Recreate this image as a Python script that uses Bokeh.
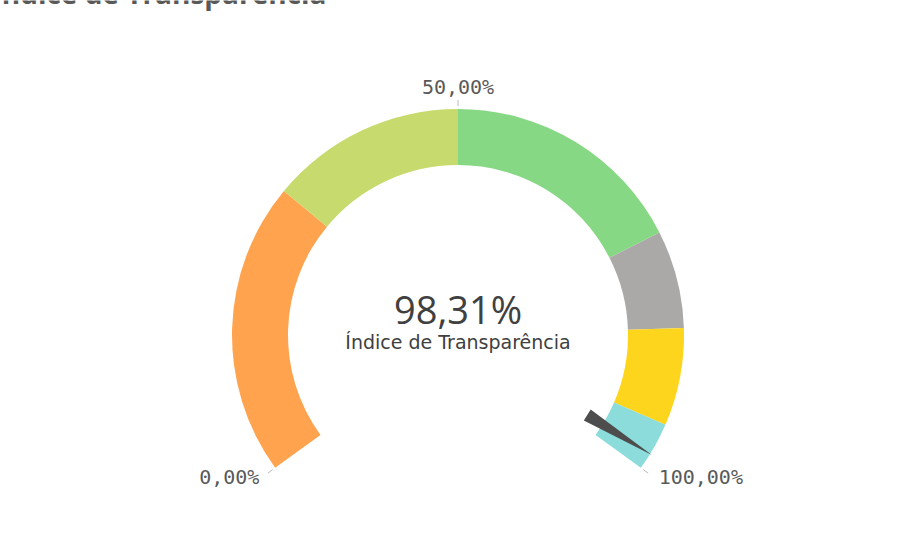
import math

from bokeh.plotting import figure
from bokeh.models import Range1d
from bokeh.core.properties import value
from bokeh.embed import file_html
from bokeh.resources import INLINE

# gauge data
title_text = "Índice de Transparência"
band_edges = [0, 30, 50, 75, 85, 95, 100]
band_colors = ["#FFA34F", "#C7DA6D", "#87D884", "#ABA9A7", "#FCD51C", "#8BDCDA"]
gauge_value = 98.31
value_text = "98,31%"
tick_values = [0, 50, 100]
tick_labels = ["0,00%", "50,00%", "100,00%"]

W, H = 899, 539
PAGE_H = 555

# data units == picture pixels (y flipped), so radii are plain pixels
p = figure(width=W, height=H, title=None,
           x_range=Range1d(0, W), y_range=Range1d(PAGE_H - H, PAGE_H),
           x_axis_location=None, y_axis_location=None,
           output_backend="svg", toolbar_location=None, min_border=0)
p.grid.visible = False
p.outline_line_color = None
p.background_fill_color = "white"
p.border_fill_color = "white"

cx, cy = 457.5, PAGE_H - 334.5
r_in, r_out = 170, 226
SWEEP = 252.0


def ang(v):
    # 0% at bottom left, 100% at bottom right, clockwise
    return math.radians(90 + SWEEP / 2 - SWEEP * v / 100.0)


p.annular_wedge(x=cx, y=cy, inner_radius=r_in, outer_radius=r_out,
                start_angle=[ang(b) for b in band_edges[1:]],
                end_angle=[ang(a) for a in band_edges[:-1]],
                fill_color=band_colors, line_color=None)

# needle
th = ang(gauge_value)
ux, uy = math.cos(th), math.sin(th)
nx, ny = -uy, ux
r_base, r_tip, half_w = 152, 228, 6.5
p.patch([cx + r_base * ux + half_w * nx, cx + r_tip * ux, cx + r_base * ux - half_w * nx],
        [cy + r_base * uy + half_w * ny, cy + r_tip * uy, cy + r_base * uy - half_w * ny],
        fill_color="#4D4D4D", line_color=None)

# ticks and labels
tick_angles = [ang(v) for v in tick_values]
p.segment(x0=[cx + 229 * math.cos(a) for a in tick_angles],
          y0=[cy + 229 * math.sin(a) for a in tick_angles],
          x1=[cx + 235 * math.cos(a) for a in tick_angles],
          y1=[cy + 235 * math.sin(a) for a in tick_angles],
          line_color="#BBBBBB", line_width=1)

for a, lab in zip(tick_angles, tick_labels):
    if math.cos(a) < -0.3:
        al, xoff, yoff = "right", 2, -4
    elif math.cos(a) > 0.3:
        al, xoff, yoff = "left", 0, -4
    else:
        al, xoff, yoff = "center", 0, 0
    p.text(x=[cx + 248 * math.cos(a)], y=[cy + 248 * math.sin(a)], text=[lab],
           text_font=value("DejaVu Sans Mono"), text_font_size="20px",
           text_color="#595959", text_align=al, text_baseline="middle",
           x_offset=xoff, y_offset=yoff)

# center value
p.text(x=[cx], y=[PAGE_H - 308.5], text=[value_text],
       text_font=value("Open Sans"), text_font_size="38px",
       text_color="#404040", text_align="center", text_baseline="middle")
p.text(x=[cx], y=[PAGE_H - 341.5], text=[title_text],
       text_font=value("DejaVu Sans"), text_font_size="19px",
       text_color="#404040", text_align="center", text_baseline="middle")

# title, mostly cut off at the top like in the screenshot
p.text(x=[-8], y=[PAGE_H + 7.5], text=[title_text],
       text_font=value("Open Sans"), text_font_size="28px", text_font_style="bold",
       text_color="#595959", text_align="left", text_baseline="middle")

open("out.html", "w").write(file_html(p, INLINE))
